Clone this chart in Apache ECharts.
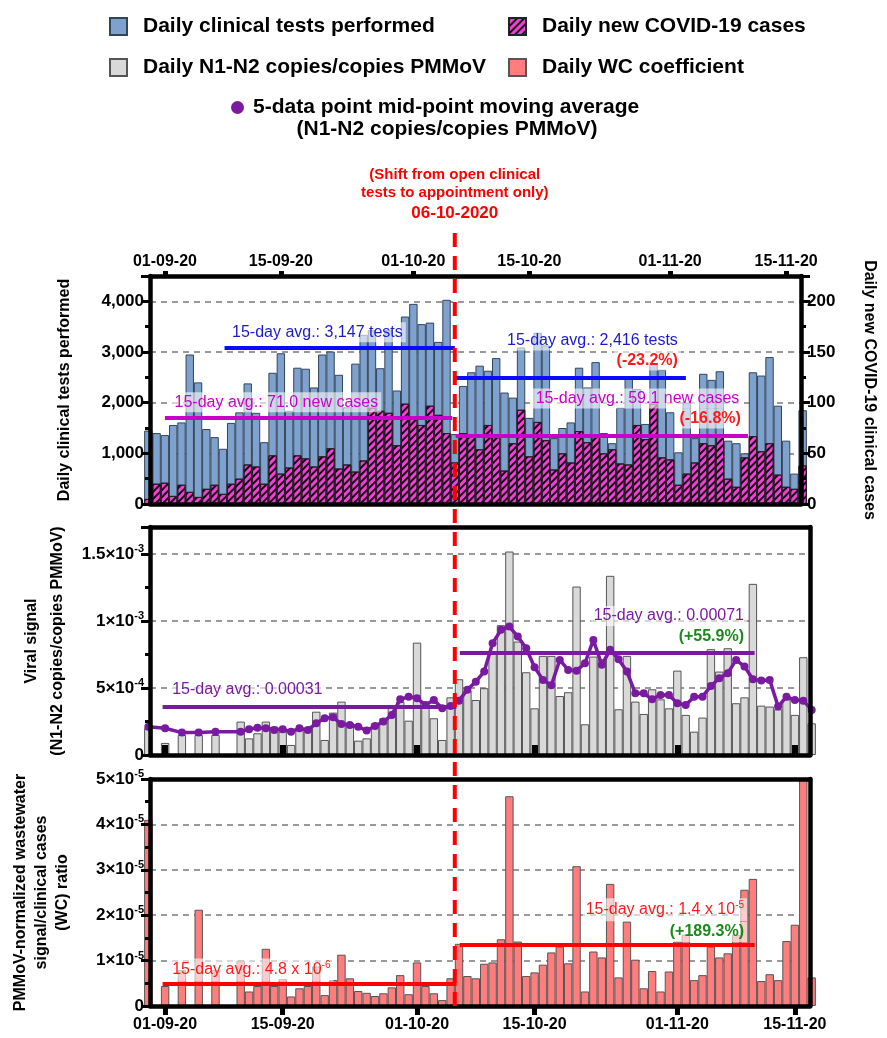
<!DOCTYPE html>
<html><head><meta charset="utf-8">
<script src="https://cdn.jsdelivr.net/npm/echarts@6/dist/echarts.min.js"></script>
<style>html,body{margin:0;padding:0;background:#fff}#c{width:887px;height:1038px}</style>
</head><body><div id="c"></div>
<script>
// ---------------- DATA ----------------
// day index relative to 01-09-2020 (day 0)
const days = [-2,-1,0,1,2,3,4,5,6,7,8,9,10,11,12,13,14,15,16,17,18,19,20,21,22,23,24,25,26,27,28,29,30,31,32,33,34,35,36,37,38,39,40,41,42,43,44,45,46,47,48,49,50,51,52,53,54,55,56,57,58,59,60,61,62,63,64,65,66,67,68,69,70,71,72,73,74,75,76,77];
const tickDays = [0,14,30,44,61,75];
const tickLabels = ['01-09-20','15-09-20','01-10-20','15-10-20','01-11-20','15-11-20'];
const shiftDay = 35; // 06-10-2020

const tests = [1450,1400,1360,1560,1610,2950,2400,1480,1320,1090,
  1600,1810,2380,1800,1220,2590,2975,1840,2690,2670,
  2300,2950,3010,2550,1910,2770,3340,3430,2680,3430,
  2240,3700,3950,3550,3580,3200,4030,1380,2330,2600,
  2730,2630,2880,2200,2100,3090,1700,3380,3130,1300,
  1500,1610,2690,2300,2800,1400,1200,1900,2500,2270,
  1580,2780,2650,1810,1020,2000,1300,2570,2450,2620,
  1250,1200,1000,2600,2535,2900,1940,1250,600,1850];
const cases = [5,20,21,8,19,12,7,15,19,10,
  20,25,39,37,20,48,30,36,48,45,
  37,47,55,35,39,32,43,95,92,90,
  58,99,84,78,97,88,70,41,70,67,
  54,78,66,33,60,93,47,81,63,34,
  50,41,72,61,67,50,54,40,39,78,
  64,99,46,44,19,30,41,60,58,69,
  25,17,46,67,52,60,29,17,15,38];
const viral = [2.0e-4,null,0.9e-4,null,1.49e-4,null,1.49e-4,null,1.49e-4,null,
  null,2.49e-4,1.24e-4,1.62e-4,2.49e-4,2.11e-4,1.74e-4,0.75e-4,1.87e-4,1.99e-4,
  3.23e-4,1.12e-4,3.16e-4,3.98e-4,2.36e-4,1.07e-4,1.24e-4,2.36e-4,2.74e-4,3.73e-4,
  3.98e-4,2.56e-4,8.38e-4,3.61e-4,2.74e-4,1.12e-4,4.30e-4,5.65e-4,4.8e-4,4.10e-4,
  4.98e-4,7.7e-4,9.68e-4,15.17e-4,8.46e-4,6.17e-4,3.48e-4,7.39e-4,7.39e-4,4.40e-4,
  4.68e-4,12.56e-4,2.29e-4,7.34e-4,7.14e-4,13.36e-4,3.41e-4,7.39e-4,3.98e-4,3.06e-4,
  4.90e-4,4.15e-4,3.48e-4,6.29e-4,2.99e-4,1.74e-4,2.79e-4,7.89e-4,6.22e-4,7.96e-4,
  3.86e-4,4.30e-4,12.76e-4,3.68e-4,3.61e-4,3.41e-4,4.15e-4,2.99e-4,7.29e-4,2.36e-4];
const movAvg = [2.11e-4,null,1.99e-4,null,1.67e-4,null,1.67e-4,null,1.74e-4,null,
  null,1.74e-4,1.92e-4,2.04e-4,1.99e-4,1.87e-4,1.92e-4,1.74e-4,1.99e-4,1.87e-4,
  2.36e-4,2.74e-4,2.81e-4,2.31e-4,2.24e-4,2.11e-4,1.82e-4,2.16e-4,2.49e-4,2.99e-4,
  4.15e-4,4.35e-4,4.23e-4,3.73e-4,4.10e-4,3.48e-4,3.66e-4,4.05e-4,4.87e-4,5.47e-4,
  6.22e-4,8.33e-4,9.33e-4,9.58e-4,8.83e-4,7.96e-4,6.54e-4,5.60e-4,5.20e-4,7.09e-4,
  6.34e-4,6.29e-4,6.84e-4,8.58e-4,6.72e-4,7.84e-4,7.14e-4,6.22e-4,4.60e-4,4.60e-4,
  4.15e-4,4.48e-4,4.48e-4,3.86e-4,3.73e-4,4.35e-4,4.35e-4,5.15e-4,5.72e-4,6.09e-4,
  7.09e-4,6.59e-4,5.65e-4,5.55e-4,5.60e-4,3.61e-4,4.35e-4,4.10e-4,4.05e-4,3.36e-4];
const wc = [4.1e-5,null,0.44e-5,null,0.79e-5,null,2.12e-5,null,0.79e-5,null,
  null,1.0e-5,0.32e-5,0.44e-5,1.26e-5,0.44e-5,0.59e-5,0.21e-5,0.39e-5,0.44e-5,
  0.87e-5,0.24e-5,0.57e-5,1.13e-5,0.61e-5,0.33e-5,0.29e-5,0.22e-5,0.28e-5,0.41e-5,
  0.68e-5,0.26e-5,0.96e-5,0.44e-5,0.28e-5,0.13e-5,0.61e-5,1.37e-5,0.66e-5,0.61e-5,
  0.93e-5,0.96e-5,1.47e-5,4.62e-5,1.42e-5,0.66e-5,0.74e-5,0.91e-5,1.18e-5,1.31e-5,
  0.94e-5,3.08e-5,0.32e-5,1.20e-5,1.07e-5,2.69e-5,0.63e-5,1.86e-5,1.02e-5,0.39e-5,
  0.77e-5,0.32e-5,0.76e-5,1.42e-5,1.57e-5,0.57e-5,0.68e-5,1.31e-5,1.07e-5,1.16e-5,
  1.57e-5,2.56e-5,2.80e-5,0.55e-5,0.70e-5,0.57e-5,1.43e-5,1.79e-5,5.0e-5,0.63e-5];

// 15-day average segments (from day, to day, drawn value)
const testsAvg  = [[7.2, 35, 3080], [35.1, 62.9, 2500]];
const casesAvg  = [[0, 34.7, 85.6], [35.1, 70.4, 67.5]];
const viralAvg  = [[-0.3, 34.7, 3.6e-4], [35.1, 70.2, 7.63e-4]];
const wcAvg     = [[-0.3, 34.7, 4.8e-6], [35.1, 70.2, 1.35e-5]];

// ---------------- CHART ----------------
const FONT = '"Liberation Sans", Arial, sans-serif';
const XMIN = -1.8, XMAX = 76.8;
const chart = echarts.init(document.getElementById('c'));

const pairs = vals => days.map((d, i) => vals[i] == null ? null : [d, vals[i]]).filter(p => p);
const seg = (arr) => arr.map(a => [{coord: [a[0], a[2]]}, {coord: [a[1], a[2]]}]);
const dateFmt = v => { const i = tickDays.indexOf(Math.round(v)); return i >= 0 ? tickLabels[i] : ''; };
const sciFmt = v => {
  if (Math.abs(v) < 1e-12) return '{b|0}';
  const e = Math.floor(Math.log10(v) + 1e-9);
  const m = Math.round(v / Math.pow(10, e) * 10) / 10;
  return '{b|' + m + '×10}{s|' + e + '}';
};
const sciRich = {
  b: {fontSize: 17, fontWeight: 'bold', fontFamily: FONT, color: '#000'},
  s: {fontSize: 11, fontWeight: 'bold', fontFamily: FONT, color: '#000', padding: [0, 0, 10, 0]}
};
const AXW = 4.5;
const lineOnly = {show: true, onZero: false, lineStyle: {color: '#000', width: AXW}};
const grids = [
  {left: 150, width: 660, top: 276, height: 228},
  {left: 150, width: 660, top: 527, height: 228},
  {left: 150, width: 660, top: 779, height: 227}
];
function xAx(g, pos, extra) {
  return Object.assign({type: 'value', gridIndex: g, position: pos, min: XMIN, max: XMAX, z: 6,
    axisLine: lineOnly, axisTick: {show: false}, axisLabel: {show: false}, splitLine: {show: false}}, extra || {});
}
const dateLabel = (margin) => ({show: true, customValues: tickDays, formatter: dateFmt, fontSize: 16, fontWeight: 'bold', fontFamily: FONT, color: '#000', margin: margin});
const xAxes = [
  xAx(0, 'top', {axisTick: {show: true, customValues: tickDays, length: 5, lineStyle: {color: '#000', width: 5}}, axisLabel: dateLabel(6)}),
  xAx(0, 'bottom'),
  xAx(1, 'bottom', {axisTick: {show: true, inside: true, customValues: tickDays, length: 10, lineStyle: {color: '#000', width: 6}}}),
  xAx(1, 'top'),
  xAx(2, 'bottom', {axisTick: {show: true, customValues: tickDays, length: 9, lineStyle: {color: '#000', width: 5}}, axisLabel: dateLabel(11)}),
  xAx(2, 'top')
];
const nameStyle = (lh) => ({fontSize: 16, fontWeight: 'bold', fontFamily: FONT, color: '#000', lineHeight: lh || 20, align: 'center'});
function yMain(g, pos, min, max, interval, label, extra) {
  return Object.assign({type: 'value', gridIndex: g, position: pos, min: min, max: max, interval: interval, z: 6,
    axisLine: lineOnly,
    axisTick: {show: true, length: 9, lineStyle: {color: '#000', width: 3}},
    minorTick: {show: true, splitNumber: 2, length: 5, lineStyle: {color: '#000', width: 3}},
    axisLabel: Object.assign({show: true, fontSize: 17, fontWeight: 'bold', fontFamily: FONT, color: '#000', margin: 6, showMaxLabel: false}, label),
    splitLine: {show: false}}, extra || {});
}
function yGrid(g, min, max, interval) {
  return {type: 'value', gridIndex: g, position: 'left', min: min, max: max, interval: interval, z: 0,
    axisLine: {show: false}, axisTick: {show: false}, axisLabel: {show: false},
    splitLine: {show: true, lineStyle: {color: '#9a9a9a', width: 2, type: [6, 5]}}};
}
function yLine(g) {
  return {type: 'value', gridIndex: g, position: 'right', z: 6, axisLine: lineOnly, axisTick: {show: false}, axisLabel: {show: false}, splitLine: {show: false}};
}
const yAxes = [
  yMain(0, 'left', 0, 4500, 1000, {formatter: v => v.toLocaleString('en-US')},
    {name: 'Daily clinical tests performed', nameLocation: 'middle', nameRotate: 90, nameGap: 75, nameTextStyle: nameStyle()}),
  yGrid(0, 0, 4500, 1000),
  yMain(0, 'right', 0, 225, 50, {},
    {name: 'Daily new COVID-19 clinical cases', nameLocation: 'middle', nameRotate: -90, nameGap: 58, nameTextStyle: nameStyle()}),
  yMain(1, 'left', 0, 0.0017, 0.0005, {formatter: sciFmt, rich: sciRich},
    {name: 'Viral signal\n(N1-N2 copies/copies PMMoV)', nameLocation: 'middle', nameRotate: 90, nameGap: 76, nameTextStyle: nameStyle(26)}),
  yGrid(1, 0, 0.0017, 0.0005),
  yLine(1),
  yMain(2, 'left', 0, 0.00005, 0.00001, {formatter: sciFmt, rich: sciRich, showMaxLabel: true},
    {name: 'PMMoV-normalized wastewater\nsignal/clinical cases\n(WC) ratio', nameLocation: 'middle', nameRotate: 90, nameGap: 77, nameTextStyle: nameStyle(21)}),
  yGrid(2, 0, 0.00005, 0.00001),
  yLine(2)
];
const mk = (color, arr) => ({symbol: 'none', silent: true, animation: false, label: {show: false},
  lineStyle: {color: color, width: 4, type: 'solid'}, data: seg(arr)});
const BW = 8.4;
const series = [
  {name: 'Daily clinical tests performed', type: 'bar', xAxisIndex: 0, yAxisIndex: 0, barWidth: BW, barGap: '-100%', clip: false, z: 2,
    itemStyle: {color: '#7fa1cd', borderColor: '#34455a', borderWidth: 1}, data: pairs(tests), markLine: mk('#0a0aff', testsAvg)},
  {name: 'Daily new COVID-19 cases', type: 'bar', xAxisIndex: 0, yAxisIndex: 2, barWidth: BW, barGap: '-100%', clip: false, z: 3,
    itemStyle: {color: '#f23fd6', borderColor: '#222', borderWidth: 1,
      decal: {symbol: 'rect', symbolSize: 1, color: 'rgba(0,0,0,0.9)', dashArrayX: [1, 0], dashArrayY: [1.4, 3], rotation: -Math.PI / 4}},
    data: pairs(cases), markLine: mk('#c800c8', casesAvg)},
  {name: 'Daily N1-N2 copies/copies PMMoV', type: 'bar', xAxisIndex: 2, yAxisIndex: 3, barWidth: BW, clip: false, z: 2,
    itemStyle: {color: '#d9d9d9', borderColor: '#555', borderWidth: 1}, data: pairs(viral)},
  {name: '5-data point mid-point moving average', type: 'line', xAxisIndex: 2, yAxisIndex: 3, clip: false, z: 4,
    symbol: 'circle', symbolSize: 8, itemStyle: {color: '#7a1aa0'}, lineStyle: {color: '#7a1aa0', width: 3.5},
    data: pairs(movAvg), markLine: mk('#7a1aa0', viralAvg)},
  {name: 'Daily WC coefficient', type: 'bar', xAxisIndex: 4, yAxisIndex: 6, barWidth: BW, clip: false, z: 2,
    itemStyle: {color: '#ff7d7d', borderColor: '#555', borderWidth: 1}, data: pairs(wc), markLine: mk('#ff0000', wcAvg)}
];
const legTxt = {fontSize: 21, fontWeight: 'bold', fontFamily: FONT, color: '#000', padding: [0, 0, 0, 11]};
const legends = [
  {left: 104, top: 11, orient: 'vertical', itemGap: 20, itemWidth: 17, itemHeight: 17, icon: 'rect', selectedMode: false,
    textStyle: legTxt, data: ['Daily clinical tests performed', 'Daily N1-N2 copies/copies PMMoV']},
  {left: 503, top: 11, orient: 'vertical', itemGap: 20, itemWidth: 17, itemHeight: 17, icon: 'rect', selectedMode: false,
    textStyle: legTxt, data: ['Daily new COVID-19 cases', 'Daily WC coefficient']},
  {left: 226, top: 92, itemWidth: 13, itemHeight: 13, selectedMode: false, textStyle: Object.assign({}, legTxt, {padding: [0, 0, 0, 4]}),
    data: [{name: '5-data point mid-point moving average', icon: 'circle'}]}
];

chart.setOption({animation: false, backgroundColor: '#fff', grid: grids, xAxis: xAxes, yAxis: yAxes, legend: legends, series: series});

// ---------------- annotations (anchored in data coordinates) ----------------
const notes = [
  {x: 0, y: 0, d: 7.74, v: 3389, t: '15-day avg.: 3,147 tests', c: '#1a1ad0', a: 'left'},
  {x: 0, y: 0, d: 0.8, v: 2008, t: '15-day avg.: 71.0 new cases', c: '#cc00cc', a: 'left'},
  {x: 0, y: 0, d: 40.95, v: 3225, t: '15-day avg.: 2,416 tests', c: '#1a1ad0', a: 'left'},
  {x: 0, y: 0, d: 62.3, v: 2830, t: '(-23.2%)', c: '#ff1a1a', a: 'right', b: true},
  {x: 0, y: 0, d: 44.4, v: 2081, t: '15-day avg.: 59.1 new cases', c: '#cc00cc', a: 'left'},
  {x: 0, y: 0, d: 69.9, v: 1686, t: '(-16.8%)', c: '#ff1a1a', a: 'right', b: true},
  {x: 2, y: 3, d: 0.48, v: 4.85e-4, t: '15-day avg.: 0.00031', c: '#7a1aa0', a: 'left'},
  {x: 2, y: 3, d: 69.3, v: 1.037e-3, t: '15-day avg.: 0.00071', c: '#7a1aa0', a: 'right'},
  {x: 2, y: 3, d: 69.3, v: 8.8e-4, t: '(+55.9%)', c: '#1a8a1a', a: 'right', b: true},
  {x: 4, y: 6, d: 0.48, v: 7.95e-6, t: '15-day avg.: 4.8 x 10{s|-6}', c: '#ff1a1a', a: 'left'},
  {x: 4, y: 6, d: 69.3, v: 2.12e-5, t: '15-day avg.: 1.4 x 10{s|-5}', c: '#ff1a1a', a: 'right'},
  {x: 4, y: 6, d: 69.3, v: 1.63e-5, t: '(+189.3%)', c: '#1a8a1a', a: 'right', b: true}
];
const gfx = [];
notes.forEach(n => {
  const p = chart.convertToPixel({xAxisIndex: n.x, yAxisIndex: n.y}, [n.d, n.v]);
  gfx.push({type: 'text', x: p[0], y: p[1], z: 20, silent: true, style: {
    text: n.t, fill: n.c, font: (n.b ? 'bold ' : '') + '16px ' + FONT, align: n.a, verticalAlign: 'middle',
    backgroundColor: 'rgba(255,255,255,0.6)', padding: [2, 3],
    rich: {s: {fontSize: 10, fill: n.c, fontFamily: FONT, padding: [0, 0, 9, 0]}}
  }});
});
const sx = chart.convertToPixel({xAxisIndex: 0}, shiftDay);
const yBottom = chart.convertToPixel({yAxisIndex: 6}, 0);
gfx.push({type: 'line', z: 30, silent: true, shape: {x1: sx, y1: 233, x2: sx, y2: yBottom},
  style: {stroke: '#ff0000', lineWidth: 4, lineDash: [14, 9]}});
gfx.push({type: 'text', x: sx, y: 175, z: 30, style: {text: '(Shift from open clinical', fill: '#ff0000', font: 'bold 15px ' + FONT, align: 'center', verticalAlign: 'middle'}});
gfx.push({type: 'text', x: sx, y: 193, z: 30, style: {text: 'tests to appointment only)', fill: '#ff0000', font: 'bold 15px ' + FONT, align: 'center', verticalAlign: 'middle'}});
gfx.push({type: 'text', x: sx, y: 213, z: 30, style: {text: '06-10-2020', fill: '#ff0000', font: 'bold 17px ' + FONT, align: 'center', verticalAlign: 'middle'}});
gfx.push({type: 'text', x: 447, y: 129, z: 30, style: {text: '(N1-N2 copies/copies PMMoV)', fill: '#000', font: 'bold 21px ' + FONT, align: 'center', verticalAlign: 'middle'}});
chart.setOption({graphic: gfx});
</script>
</body></html>
